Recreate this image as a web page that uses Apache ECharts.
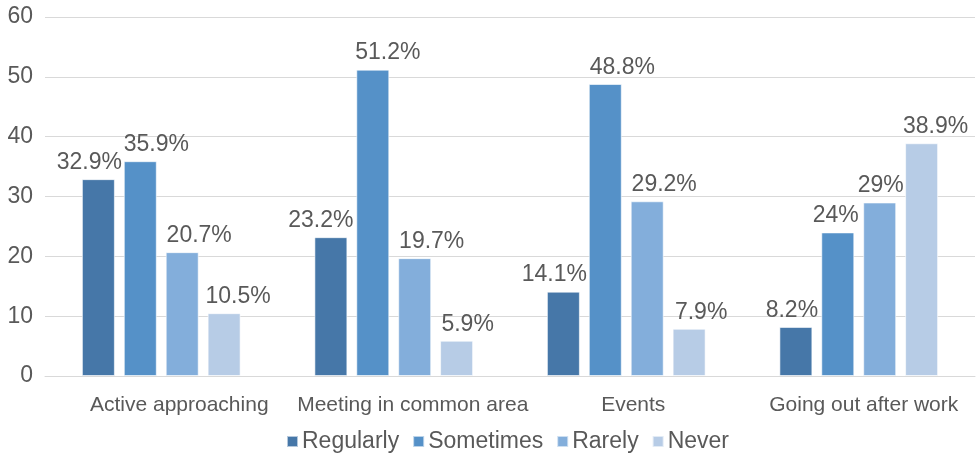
<!DOCTYPE html>
<html>
<head>
<meta charset="utf-8">
<script src="https://cdn.jsdelivr.net/npm/echarts@6/dist/echarts.min.js"></script>
<style>
  html, body { margin: 0; padding: 0; background: #fff; }
  #chart { width: 976px; height: 459px; }
</style>
</head>
<body>
<div id="chart"></div>
<script>
var categories = ['Active approaching', 'Meeting in common area', 'Events', 'Going out after work'];
var seriesNames = ['Regularly', 'Sometimes', 'Rarely', 'Never'];
var regularly = [32.9, 23.2, 14.1, 8.2];
var sometimes = [35.9, 51.2, 48.8, 24];
var rarely = [20.7, 19.7, 29.2, 29];
var never = [10.5, 5.9, 7.9, 38.9];
var colors = ['#4677a8', '#5591c8', '#83aedb', '#b7cce6'];

// Excel nudged some data labels sideways; horizontal label shifts, per series
var labelShift = [
	[-9, -10, -9, -4],
	[16, 15, 17, -2],
	[17, 17, 17, 1],
	[14, 11, 12, 14]
];
// category labels also sit a bit right of centre in the original
var catShift = [18, 19, 7, 5];

var myChart = echarts.init(document.getElementById('chart'));

var textColor = '#595959';
var font = 'Liberation Sans, Arial, sans-serif';

var makeSeries = function(name, data, idx) {
	return {
		name: name,
		type: 'bar',
		barWidth: 33,
		barGap: '27%',
		data: data.map(function(v, i) {
			return { value: v, label: { offset: [labelShift[idx][i], 0] } };
		}),
		itemStyle: {
			color: colors[idx],
			borderColor: 'rgba(255,255,255,0.6)',
			borderWidth: 1
		},
		label: {
			show: true,
			position: 'top',
			distance: 5,
			formatter: '{c}%',
			color: textColor,
			fontSize: 23,
			fontFamily: font
		}
	};
};

var catRich = {};
catShift.forEach(function(s, i) {
	catRich['c' + i] = { color: textColor, fontSize: 21, fontFamily: font, padding: [0, 0, 0, s * 2] };
});

var option = {
	animation: false,
	textStyle: { fontFamily: font },
	grid: { left: 45, right: 1, top: 17, bottom: 83, containLabel: false },
	legend: {
		bottom: 1,
		left: 281,
		itemWidth: 11,
		itemHeight: 11,
		itemGap: 13,
		icon: 'rect',
		textStyle: { color: textColor, fontSize: 23, fontFamily: font, padding: [0, 0, 0, -1] },
		data: seriesNames
	},
	xAxis: {
		type: 'category',
		data: categories,
		axisLine: { lineStyle: { color: '#d9d9d9', width: 1 } },
		axisTick: { show: false },
		axisLabel: {
			margin: 19,
			interval: 0,
			formatter: function(v, i) {
				return '{c' + i + '|' + v + '}';
			},
			rich: catRich
		}
	},
	yAxis: {
		type: 'value',
		min: 0,
		max: 60,
		interval: 10,
		axisLine: { show: false },
		axisTick: { show: false },
		splitLine: { lineStyle: { color: '#d9d9d9', width: 1 } },
		axisLabel: { color: textColor, fontSize: 23, fontFamily: font, margin: 12 }
	},
	series: [
		makeSeries(seriesNames[0], regularly, 0),
		makeSeries(seriesNames[1], sometimes, 1),
		makeSeries(seriesNames[2], rarely, 2),
		makeSeries(seriesNames[3], never, 3)
	]
};

myChart.setOption(option);
</script>
</body>
</html>
